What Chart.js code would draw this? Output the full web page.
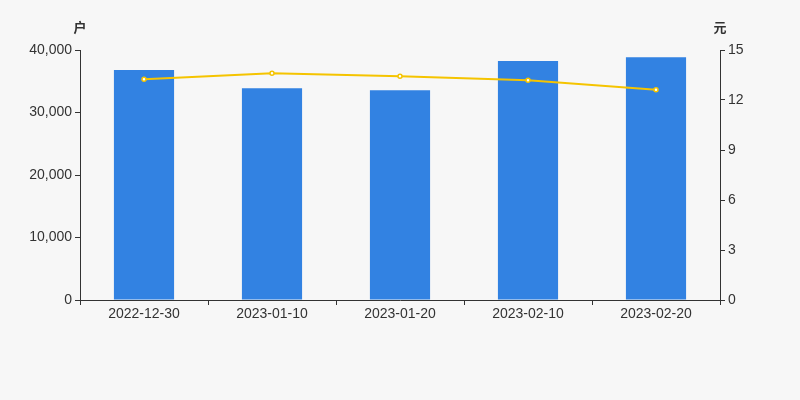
<!DOCTYPE html>
<html>
<head>
<meta charset="utf-8">
<script src="https://cdn.jsdelivr.net/npm/chart.js@4"></script>
<style>
  html, body { margin: 0; padding: 0; background: #f7f7f7; }
  #wrap { width: 800px; height: 400px; }
</style>
</head>
<body>
<div id="wrap"><canvas id="holderChart" width="800" height="400"></canvas></div>
<script>
const dates = ['2022-12-30', '2023-01-10', '2023-01-20', '2023-02-10', '2023-02-20'];
const holders = [36800, 33870, 33550, 38240, 38830];
const avgPrice = [13.24, 13.6, 13.42, 13.18, 12.62];
const leftUnit = '户';
const rightUnit = '元';

const axisColor = '#333';
const fontFamily = 'Arial, "Liberation Sans", "Noto Sans CJK SC", sans-serif';

// unit labels above both y axes
const unitLabels = {
    id: 'unitLabels',
    afterDraw(chart) {
        const ctx = chart.ctx;
        const yl = chart.scales.y;
        const yr = chart.scales.y1;
        ctx.save();
        ctx.fillStyle = axisColor;
        ctx.font = 'bold 13px ' + fontFamily;
        ctx.textBaseline = 'middle';
        ctx.textAlign = 'center';
        ctx.fillText(leftUnit, yl.right - 0, yl.top - 22);
        ctx.fillText(rightUnit, yr.left + 0, yr.top - 22);
        ctx.restore();
    }
};

const ctx = document.getElementById('holderChart').getContext('2d');
const holderChart = new Chart(ctx, {
    data: {
        labels: dates,
        datasets: [{
            type: 'line',
            label: 'price',
            data: avgPrice,
            yAxisID: 'y1',
            borderColor: '#f5c400',
            borderWidth: 2,
            pointRadius: 2,
            pointBackgroundColor: '#ffffff',
            pointBorderColor: '#f5c400',
            pointBorderWidth: 1.5,
            tension: 0,
            order: 0
        }, {
            type: 'bar',
            label: 'holders',
            data: holders,
            yAxisID: 'y',
            backgroundColor: '#3282e2',
            barPercentage: 0.47,
            categoryPercentage: 1,
            order: 1
        }]
    },
    options: {
        responsive: false,
        animation: false,
        layout: { padding: { top: 50, left: 0, right: 0, bottom: 0 } },
        plugins: {
            legend: { display: false },
            tooltip: { enabled: false }
        },
        scales: {
            x: {
                offset: true,
                grid: {
                    offset: true,
                    drawOnChartArea: false,
                    drawTicks: true,
                    tickLength: 5,
                    color: axisColor
                },
                border: { color: axisColor, width: 1 },
                ticks: {
                    color: axisColor,
                    font: { size: 14, family: fontFamily },
                    padding: 1,
                    maxRotation: 0
                },
                afterFit(scale) { scale.height = 100; }
            },
            y: {
                position: 'left',
                min: 0,
                max: 40000,
                grid: {
                    drawOnChartArea: false,
                    tickLength: 5,
                    color: axisColor
                },
                border: { color: axisColor, width: 1 },
                ticks: {
                    stepSize: 10000,
                    color: axisColor,
                    font: { size: 14, family: fontFamily },
                    padding: 3,
                    callback: v => v.toLocaleString('en-US')
                },
                afterFit(scale) { scale.width = 80; }
            },
            y1: {
                position: 'right',
                min: 0,
                max: 15,
                grid: {
                    drawOnChartArea: false,
                    tickLength: 5,
                    color: axisColor
                },
                border: { color: axisColor, width: 1 },
                ticks: {
                    stepSize: 3,
                    color: axisColor,
                    font: { size: 14, family: fontFamily },
                    padding: 3
                },
                afterFit(scale) { scale.width = 80; }
            }
        }
    },
    plugins: [unitLabels]
});
</script>
</body>
</html>
